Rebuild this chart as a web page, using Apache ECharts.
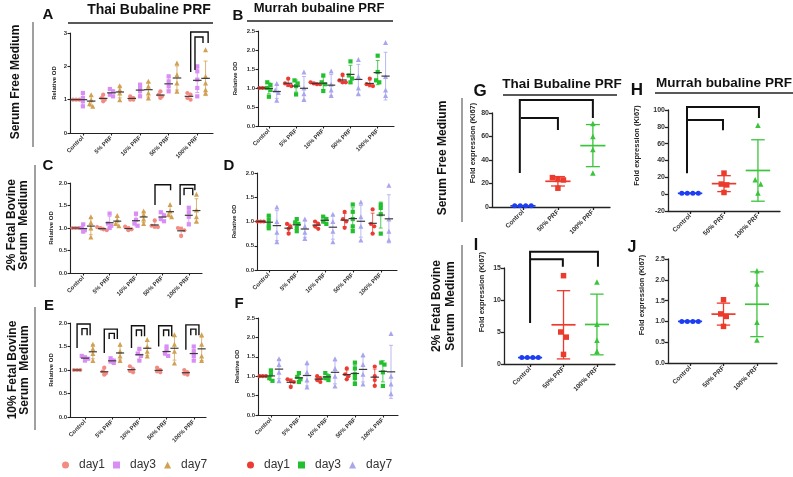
<!DOCTYPE html>
<html>
<head>
<meta charset="utf-8">
<script src="https://cdn.jsdelivr.net/npm/echarts@6/dist/echarts.min.js"></script>
<style>
  html, body { margin: 0; padding: 0; background: #fff; }
  #chart { width: 793px; height: 477px; }
</style>
</head>
<body>
<div id="chart"></div>
<script>
// ---- categories ----
var prfCats = ['Control', '5% PRF', '10% PRF', '50% PRF', '100% PRF'];
var kiCats = ['Control', '50% PRF', '100% PRF'];

// ---- A: serum free, Thai (relative OD, one list per category) ----
var sfThaiDay1 = [[1.0, 1.0, 1.0, 1.0], [1.15, 1.05, 1.0, 0.95], [1.1, 1.05, 1.0, 1.0], [1.25, 1.15, 1.1, 1.05], [1.2, 1.15, 1.05, 1.0]];
var sfThaiDay3 = [[1.2, 1.05, 0.95, 0.8], [1.32, 1.25, 1.15, 1.1], [1.45, 1.35, 1.25, 1.1], [1.7, 1.55, 1.4, 1.25], [2.0, 1.85, 1.6, 1.35, 1.1]];
var sfThaiDay7 = [[1.15, 1.0, 0.88, 0.8], [1.42, 1.3, 1.2, 1.0], [1.55, 1.4, 1.2, 1.05], [2.1, 1.75, 1.5, 1.25], [2.5, 1.7, 1.5, 1.3, 1.2]];
// ---- B: serum free, Murrah ----
var sfMurDay1 = [[1.0, 1.0, 1.0, 1.0], [1.25, 1.12, 1.08, 1.05], [1.15, 1.12, 1.1, 1.1], [1.35, 1.2, 1.15, 1.15], [1.25, 1.1, 1.08, 1.05]];
var sfMurDay3 = [[1.15, 1.08, 1.0, 0.95, 0.77], [1.2, 1.12, 1.05, 0.83], [1.33, 1.15, 1.1, 0.92], [1.7, 1.33, 1.25, 1.15], [1.85, 1.42, 1.2, 1.15]];
var sfMurDay7 = [[1.12, 0.95, 0.88, 0.68], [1.42, 1.0, 0.85, 0.7], [1.45, 1.1, 0.95, 0.8], [1.75, 1.3, 1.0, 0.85], [2.2, 1.3, 0.95, 0.8]];
// ---- C: 2% FBS, Thai ----
var fbs2ThaiDay1 = [[1.0, 1.0, 1.0], [1.02, 1.0, 0.97, 0.95], [1.03, 1.0, 0.97, 0.95], [1.17, 1.05, 1.03, 1.02], [1.0, 0.98, 0.95, 0.82]];
var fbs2ThaiDay3 = [[1.08, 1.0, 0.95, 0.92], [1.32, 1.1, 1.05, 1.0], [1.32, 1.18, 1.1, 1.05], [1.35, 1.28, 1.2, 1.15], [1.45, 1.35, 1.25, 1.08]];
var fbs2ThaiDay7 = [[1.25, 1.12, 1.0, 0.8], [1.28, 1.18, 1.1, 1.05], [1.38, 1.3, 1.2, 1.1], [1.52, 1.38, 1.3, 1.25], [1.75, 1.4, 1.25, 1.15]];
// ---- D: 2% FBS, Murrah ----
var fbs2MurDay1 = [[1.0, 1.0, 1.0], [0.95, 0.9, 0.85, 0.75], [1.0, 0.95, 0.9, 0.85], [1.2, 1.05, 1.0, 0.87], [1.25, 0.95, 0.9, 0.75]];
var fbs2MurDay3 = [[1.12, 1.03, 0.93, 0.86], [1.05, 0.98, 0.95, 0.88, 0.8], [1.1, 1.05, 1.0, 0.95], [1.35, 1.2, 1.05, 0.9, 0.8], [1.35, 1.28, 1.15, 0.75]];
var fbs2MurDay7 = [[1.3, 1.0, 0.78, 0.58], [1.05, 0.9, 0.78, 0.65], [1.15, 1.0, 0.8, 0.58], [1.4, 1.1, 0.9, 0.62], [1.75, 1.05, 0.8, 0.62]];
// ---- E: 10% FBS, Thai ----
var fbs10ThaiDay1 = [[1.0, 1.0, 1.0], [1.05, 0.97, 0.93, 0.9], [1.08, 1.02, 0.98, 0.95], [1.05, 1.0, 0.97, 0.95], [1.0, 0.95, 0.92, 0.9]];
var fbs10ThaiDay3 = [[1.3, 1.27, 1.24, 1.2], [1.25, 1.2, 1.18, 1.15], [1.45, 1.35, 1.3, 1.2], [1.5, 1.42, 1.35, 1.3], [1.5, 1.4, 1.3, 1.2]];
var fbs10ThaiDay7 = [[1.55, 1.45, 1.35, 1.2], [1.55, 1.4, 1.3, 1.2], [1.65, 1.5, 1.4, 1.3], [1.75, 1.55, 1.4, 1.15], [1.75, 1.55, 1.3, 1.2]];
// ---- F: 10% FBS, Murrah ----
var fbs10MurDay1 = [[1.0, 1.0, 1.0], [0.92, 0.88, 0.85, 0.72], [1.0, 0.95, 0.9, 0.85], [1.2, 1.05, 1.0, 0.92], [1.25, 1.0, 0.9, 0.75]];
var fbs10MurDay3 = [[1.15, 1.05, 0.95, 0.88], [1.08, 0.98, 0.92, 0.85], [1.08, 1.0, 0.95, 0.9], [1.35, 1.2, 1.05, 0.95, 0.8], [1.35, 1.3, 1.1, 0.75]];
var fbs10MurDay7 = [[1.45, 1.3, 1.1, 0.88], [1.35, 1.1, 0.9, 0.72], [1.45, 1.2, 1.0, 0.75], [1.55, 1.3, 1.05, 0.8], [2.1, 1.0, 0.8, 0.55]];

// ---- G-J: fold expression of Ki67 ----
var gControl = [1, 1, 1, 1], g50 = [25, 23.5, 23, 16], g100 = [71, 60, 49, 29];
var hControl = [1, 1, 1, 1], h50 = [25, 12, 11, 2], h100 = [82, 17, 12, 1.5];
var iControl = [1, 1, 1, 1], i50 = [13.8, 5, 4.2, 1.5], i100 = [12.8, 6.2, 3.7, 2];
var jControl = [1, 1, 1, 1], j50 = [1.52, 1.18, 1.12, 0.88], j100 = [2.22, 1.9, 0.98, 0.55];

// significance brackets: [x left, x right, y top, y left end, y right end]
var bracketsA = [[3.77, 4.38, 3.03, 1.83, 2.7], [3.92, 4.2, 2.88, 1.89, 2.7]];
var bracketsC = [[2.72, 3.31, 1.96, 1.51, 1.84], [3.67, 4.23, 1.96, 1.51, 1.84], [3.82, 4.15, 1.88, 1.73, 1.73]];
var bracketsE = [
  [-0.29, 0.19, 1.98, 1.47, 1.74], [-0.11, 0.08, 1.88, 1.74, 1.74],
  [0.71, 1.19, 1.87, 1.36, 1.66], [0.89, 1.08, 1.78, 1.66, 1.66],
  [1.71, 2.19, 1.94, 1.47, 1.72], [1.89, 2.08, 1.85, 1.72, 1.72],
  [2.71, 3.19, 1.94, 1.5, 1.72], [2.89, 3.08, 1.85, 1.72, 1.72],
  [3.71, 4.19, 1.96, 1.43, 1.74], [3.89, 4.08, 1.87, 1.74, 1.74]
];
var bracketsG = [[-0.09, 2.0, 91, 29, 75.7], [-0.06, 1.0, 75.7, 75.7, 65.5]];
var bracketsH = [[-0.09, 2.03, 103.6, 25, 90.5], [-0.07, 0.97, 88, 88, 76]];
var bracketsI = [[0, 2.03, 17.55, 6.4, 15.2], [0.02, 0.98, 16.36, 16.36, 15.2]];

var FONT = 'Liberation Sans, Arial, sans-serif';
var thaiColors = ['#f28b82', '#d98ef5', '#d1a254'];
var murColors = ['#ec3b33', '#22c02f', '#a9a6ee'];
var kiColors = ['#1d3ef2', '#ec3a2c', '#3cc43c'];
var symbols = ['circle', 'rect', 'triangle'];
var dayOffset = [-0.29, 0, 0.29];

// small panels A-F
var smallPanels = [
  { grid: { left: 70, top: 33, width: 143, height: 100 }, x: [-0.45, 4.55], y: [0, 3, 1], dec: 0, gap: 13, days: [sfThaiDay1, sfThaiDay3, sfThaiDay7], colors: thaiColors, names: ['day1', 'day3', 'day7'], brackets: bracketsA },
  { grid: { left: 258, top: 31, width: 136, height: 95 }, x: [-0.4, 4.6], y: [0, 2.5, 0.5], dec: 1, gap: 20, days: [sfMurDay1, sfMurDay3, sfMurDay7], colors: murColors, names: ['day1 ', 'day3 ', 'day7 '] },
  { grid: { left: 70, top: 183, width: 132, height: 90 }, x: [-0.5, 4.5], y: [0, 2, 0.5], dec: 1, gap: 13, days: [fbs2ThaiDay1, fbs2ThaiDay3, fbs2ThaiDay7], colors: thaiColors, names: ['day1', 'day3', 'day7'], brackets: bracketsC },
  { grid: { left: 257, top: 173, width: 140, height: 97 }, x: [-0.42, 4.58], y: [0, 2, 0.5], dec: 1, gap: 20, days: [fbs2MurDay1, fbs2MurDay3, fbs2MurDay7], colors: murColors, names: ['day1 ', 'day3 ', 'day7 '] },
  { grid: { left: 70, top: 323, width: 136, height: 94 }, x: [-0.55, 4.45], y: [0, 2, 0.5], dec: 1, gap: 13, days: [fbs10ThaiDay1, fbs10ThaiDay3, fbs10ThaiDay7], colors: thaiColors, names: ['day1', 'day3', 'day7'], brackets: bracketsE },
  { grid: { left: 258, top: 318, width: 140, height: 97 }, x: [-0.46, 4.54], y: [0, 2.5, 0.5], dec: 1, gap: 18, days: [fbs10MurDay1, fbs10MurDay3, fbs10MurDay7], colors: murColors, names: ['day1 ', 'day3 ', 'day7 '] }
];

// big panels G-J
var bigPanels = [
  { grid: { left: 492, top: 113, width: 118, height: 94 }, x: [-0.886, 2.49], y: [0, 80, 20], dec: 0, gap: 10, shift: 34, groups: [gControl, g50, g100], brackets: bracketsG },
  { grid: { left: 668, top: 110, width: 112, height: 101 }, x: [-0.65, 2.65], y: [-20, 100, 20], dec: 0, gap: 27, shift: 30, groups: [hControl, h50, h100], brackets: bracketsH },
  { grid: { left: 504, top: 268, width: 111, height: 96 }, x: [-0.78, 2.54], y: [0, 15, 5], dec: 0, gap: 18, shift: 48, groups: [iControl, i50, i100], brackets: bracketsI },
  { grid: { left: 668, top: 259, width: 109, height: 104 }, x: [-0.66, 2.6], y: [0, 2.5, 0.5], dec: 1, gap: 22, shift: 32, groups: [jControl, j50, j100] }
];

function stats(v) {
  var m = v.reduce(function (a, b) { return a + b; }, 0) / v.length;
  var ss = v.reduce(function (a, b) { return a + (b - m) * (b - m); }, 0);
  return [m, v.length > 1 ? Math.sqrt(ss / (v.length - 1)) : 0];
}

// spread points that overlap at the same height, like a dot plot
function swarm(vals, pxX, pxY, d) {
  var idx = vals.map(function (v, i) { return i; }).sort(function (a, b) { return vals[b] - vals[a]; });
  var rows = [];
  idx.forEach(function (i) {
    var last = rows[rows.length - 1];
    if (last && Math.abs(vals[last[0]] - vals[i]) * pxY < d) last.push(i);
    else rows.push([i]);
  });
  var out = [];
  rows.forEach(function (r) {
    r.forEach(function (i, k) { out.push([(k - (r.length - 1) / 2) * d / pxX, vals[i]]); });
  });
  return out;
}

function errRenderer(meanHalf, capHalf, sdColor, meanColor, lw) {
  return function (params, api) {
    var x = api.value(0), m = api.value(1), s = api.value(2);
    var t = api.coord([x, m + s]), b = api.coord([x, m - s]);
    var tl = api.coord([x - capHalf, m + s]), tr = api.coord([x + capHalf, m + s]);
    var bl = api.coord([x - capHalf, m - s]), br = api.coord([x + capHalf, m - s]);
    var ml = api.coord([x - meanHalf, m]), mr = api.coord([x + meanHalf, m]);
    var st = { stroke: sdColor, lineWidth: lw };
    return {
      type: 'group', children: [
        { type: 'line', shape: { x1: t[0], y1: t[1], x2: b[0], y2: b[1] }, style: st },
        { type: 'line', shape: { x1: tl[0], y1: tl[1], x2: tr[0], y2: tr[1] }, style: st },
        { type: 'line', shape: { x1: bl[0], y1: bl[1], x2: br[0], y2: br[1] }, style: st },
        { type: 'line', shape: { x1: ml[0], y1: ml[1], x2: mr[0], y2: mr[1] }, style: { stroke: meanColor, lineWidth: lw + 0.4 } }
      ]
    };
  };
}

function bracketRenderer(lw) {
  return function (params, api) {
    var x1 = api.value(0), x2 = api.value(1), yt = api.value(2), yl = api.value(3), yr = api.value(4);
    var pts = [api.coord([x1, yl]), api.coord([x1, yt]), api.coord([x2, yt]), api.coord([x2, yr])];
    return { type: 'polyline', shape: { points: pts }, style: { stroke: '#111', lineWidth: lw, fill: null } };
  };
}

var grids = [], xAxes = [], yAxes = [], series = [];

function addAxes(p, cats, idx, sizes) {
  var ticks = cats.map(function (c, k) { return k; });
  grids.push(p.grid);
  xAxes.push({
    gridIndex: idx, type: 'value', min: p.x[0], max: p.x[1], splitLine: { show: false },
    axisLine: { show: true, onZero: false, lineStyle: { color: '#222', width: sizes.axisW } },
    axisTick: { show: true, customValues: ticks, length: sizes.tick, lineStyle: { color: '#222', width: sizes.axisW } },
    axisLabel: {
      customValues: ticks, rotate: 45, margin: 4, fontSize: sizes.xFont, fontWeight: 'bold', color: '#333', fontFamily: FONT,
      formatter: function (v) { return cats[Math.round(v)]; }
    }
  });
  yAxes.push({
    gridIndex: idx, type: 'value', min: p.y[0], max: p.y[1], interval: p.y[2], splitLine: { show: false },
    axisLine: { show: true, onZero: false, lineStyle: { color: '#222', width: sizes.axisW } },
    axisTick: { show: true, length: sizes.tick, lineStyle: { color: '#222', width: sizes.axisW } },
    axisLabel: { margin: 3, fontSize: sizes.yFont, fontWeight: 'bold', color: '#333', fontFamily: FONT,
      formatter: function (v) { return v.toFixed(p.dec); } },
    name: sizes.yName, nameLocation: 'middle', nameGap: p.gap,
    nameTextStyle: { fontSize: sizes.nameFont, fontWeight: 'bold', color: '#222', fontFamily: FONT, padding: [0, 0, 0, p.shift || 0] }
  });
}

smallPanels.forEach(function (p, idx) {
  addAxes(p, prfCats, idx, { axisW: 1.1, tick: 2.5, xFont: 6, yFont: 6, nameFont: 6, yName: 'Relative OD' });
  var pxX = p.grid.width / (p.x[1] - p.x[0]);
  var pxY = p.grid.height / (p.y[1] - p.y[0]);
  p.days.forEach(function (day, d) {
    var pts = [], st = [];
    day.forEach(function (vals, c) {
      var cx = c + dayOffset[d];
      swarm(vals, pxX, pxY, 3.2).forEach(function (q) { pts.push([cx + q[0], q[1]]); });
      var s = stats(vals);
      st.push([cx, s[0], s[1]]);
    });
    series.push({
      type: 'scatter', name: p.names[d], xAxisIndex: idx, yAxisIndex: idx, symbol: symbols[d],
      symbolSize: d === 2 ? 5 : 4.2, itemStyle: { color: p.colors[d], opacity: 1 }, data: pts, z: 2, silent: true
    });
    series.push({
      type: 'custom', xAxisIndex: idx, yAxisIndex: idx, data: st, z: 3, silent: true,
      renderItem: errRenderer(0.15, 0.07, p.colors[d], '#3a3a3a', 0.8)
    });
  });
  if (p.brackets) {
    series.push({ type: 'custom', xAxisIndex: idx, yAxisIndex: idx, data: p.brackets, z: 4, silent: true, clip: false, renderItem: bracketRenderer(1.4) });
  }
});

bigPanels.forEach(function (p, k) {
  var idx = smallPanels.length + k;
  addAxes(p, kiCats, idx, { axisW: 1.3, tick: 3, xFont: 6.5, yFont: 7, nameFont: 7.5, yName: 'Fold expression (Ki67)' });
  var pxX = p.grid.width / (p.x[1] - p.x[0]);
  var pxY = p.grid.height / (p.y[1] - p.y[0]);
  p.groups.forEach(function (vals, g) {
    var pts = swarm(vals, pxX, pxY, 5.5).map(function (q) { return [g + q[0], q[1]]; });
    var s = stats(vals);
    series.push({
      type: 'scatter', xAxisIndex: idx, yAxisIndex: idx, symbol: symbols[g], symbolSize: g === 0 ? 5 : 5.5,
      itemStyle: { color: kiColors[g], opacity: 1 }, data: pts, z: 2, silent: true
    });
    series.push({
      type: 'custom', xAxisIndex: idx, yAxisIndex: idx, data: [[g, s[0], s[1]]], z: 3, silent: true,
      renderItem: errRenderer(0.36, 0.2, kiColors[g], kiColors[g], 1.3)
    });
  });
  if (p.brackets) {
    series.push({ type: 'custom', xAxisIndex: idx, yAxisIndex: idx, data: p.brackets, z: 4, silent: true, clip: false, renderItem: bracketRenderer(2) });
  }
});

function txt(s, x, y, size, rot, lh) {
  return {
    type: 'text', x: x, y: y, rotation: rot || 0, z: 10,
    style: { text: s, fontSize: size, fontWeight: 'bold', fontFamily: FONT, fill: '#111', align: 'center', verticalAlign: 'middle', lineHeight: lh || size }
  };
}
function ln(x1, y1, x2, y2, color, w) {
  return { type: 'line', z: 10, shape: { x1: x1, y1: y1, x2: x2, y2: y2 }, style: { stroke: color, lineWidth: w } };
}
var R = Math.PI / 2;
var graphics = [
  txt('A', 48, 15, 15), txt('B', 238, 16, 15), txt('C', 48, 166, 15), txt('D', 229, 166, 15),
  txt('E', 49, 306, 15), txt('F', 239, 304, 15), txt('G', 480, 91, 17), txt('H', 637, 90, 17),
  txt('I', 476, 246, 16), txt('J', 632, 248, 16),
  txt('Thai Bubaline PRF', 149, 10, 14), txt('Murrah bubaline PRF', 319, 8, 13),
  txt('Thai Bubaline PRF', 562, 84, 13.5), txt('Murrah bubaline PRF', 724, 83, 13.5),
  ln(68, 23, 213, 23, '#222', 1.5), ln(247, 21, 393, 21, '#222', 1.5),
  ln(503, 95, 617, 95, '#222', 1.5), ln(655, 93, 793, 93, '#222', 1.5),
  txt('Serum Free Medium', 16, 82, 12, R),
  txt('2% Fetal Bovine\nSerum  Medium', 18, 225, 12, R, 12),
  txt('10% Fetal Bovine\nSerum  Medium', 19, 370, 12, R, 12),
  txt('Serum Free Medium', 443, 158, 12, R),
  txt('2% Fetal Bovine\nSerum  Medium', 444, 306, 12, R, 14),
  ln(33, 22, 33, 147, '#a0a0a0', 2), ln(35, 165, 35, 287, '#a0a0a0', 2), ln(35, 307, 35, 430, '#a0a0a0', 2),
  ln(462, 98, 462, 222, '#a0a0a0', 2), ln(462, 245, 462, 367, '#a0a0a0', 2)
];

var legendBase = { top: 454, itemWidth: 7, itemHeight: 7, itemGap: 8, selectedMode: false, textStyle: { fontSize: 12, color: '#333', fontFamily: FONT, padding: [0, 0, 0, 5] } };

var chart = echarts.init(document.getElementById('chart'));
chart.setOption({
  animation: false,
  backgroundColor: '#fff',
  grid: grids,
  xAxis: xAxes,
  yAxis: yAxes,
  legend: [
    Object.assign({}, legendBase, { left: 57, data: ['day1', 'day3', 'day7'] }),
    Object.assign({}, legendBase, { left: 242, data: ['day1 ', 'day3 ', 'day7 '], formatter: function (n) { return n.trim(); } })
  ],
  graphic: graphics,
  series: series
});
</script>
</body>
</html>
